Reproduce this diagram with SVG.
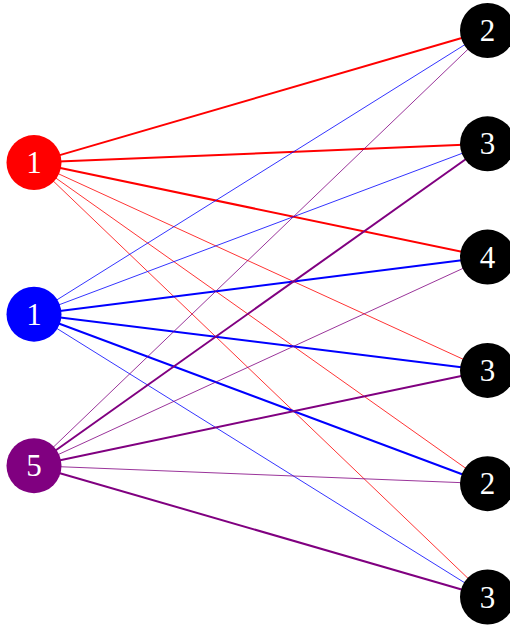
<svg xmlns="http://www.w3.org/2000/svg" width="510" height="626" viewBox="0 0 510 626">
<style>
.thick{stroke-width:2;fill:none}
.thin{stroke-width:0.8;fill:none}
.r{stroke:#ff0000}.b{stroke:#0000ff}.p{stroke:#800080}
text{font-family:"Liberation Serif","DejaVu Serif",serif;font-size:31px;fill:#ffffff;text-anchor:middle}
</style>
<rect width="510" height="626" fill="#ffffff"/>
<g id="connectors">
<line class="r thick" x1="34" y1="162.6" x2="487.5" y2="30.5"/>
<line class="r thick" x1="34" y1="162.6" x2="487.5" y2="143.8"/>
<line class="r thick" x1="34" y1="162.6" x2="487.5" y2="257.1"/>
<line class="r thin" x1="34" y1="162.6" x2="487.5" y2="370.4"/>
<line class="r thin" x1="34" y1="162.6" x2="487.5" y2="483.7"/>
<line class="r thin" x1="34" y1="162.6" x2="487.5" y2="597"/>
<line class="b thin" x1="34" y1="314.2" x2="487.5" y2="30.5"/>
<line class="b thin" x1="34" y1="314.2" x2="487.5" y2="143.8"/>
<line class="b thick" x1="34" y1="314.2" x2="487.5" y2="257.1"/>
<line class="b thick" x1="34" y1="314.2" x2="487.5" y2="370.4"/>
<line class="b thick" x1="34" y1="314.2" x2="487.5" y2="483.7"/>
<line class="b thin" x1="34" y1="314.2" x2="487.5" y2="597"/>
<line class="p thin" x1="34" y1="465.7" x2="487.5" y2="30.5"/>
<line class="p thick" x1="34" y1="465.7" x2="487.5" y2="143.8"/>
<line class="p thin" x1="34" y1="465.7" x2="487.5" y2="257.1"/>
<line class="p thick" x1="34" y1="465.7" x2="487.5" y2="370.4"/>
<line class="p thin" x1="34" y1="465.7" x2="487.5" y2="483.7"/>
<line class="p thick" x1="34" y1="465.7" x2="487.5" y2="597"/>
</g>
<g id="L1"><circle cx="34" cy="162.6" r="27.5" fill="#ff0000"/><text x="34" y="173.2">1</text></g>
<g id="L2"><circle cx="34" cy="314.2" r="27.5" fill="#0000ff"/><text x="34" y="324.8">1</text></g>
<g id="L3"><circle cx="34" cy="465.7" r="27.5" fill="#800080"/><text x="34" y="476.3">5</text></g>
<g id="R1"><circle cx="487.5" cy="30.5" r="27.5" fill="#000000"/><text x="487.5" y="41.1">2</text></g>
<g id="R2"><circle cx="487.5" cy="143.8" r="27.5" fill="#000000"/><text x="487.5" y="154.4">3</text></g>
<g id="R3"><circle cx="487.5" cy="257.1" r="27.5" fill="#000000"/><text x="487.5" y="267.7">4</text></g>
<g id="R4"><circle cx="487.5" cy="370.4" r="27.5" fill="#000000"/><text x="487.5" y="381">3</text></g>
<g id="R5"><circle cx="487.5" cy="483.7" r="27.5" fill="#000000"/><text x="487.5" y="494.3">2</text></g>
<g id="R6"><circle cx="487.5" cy="597" r="27.5" fill="#000000"/><text x="487.5" y="607.6">3</text></g>
</svg>
